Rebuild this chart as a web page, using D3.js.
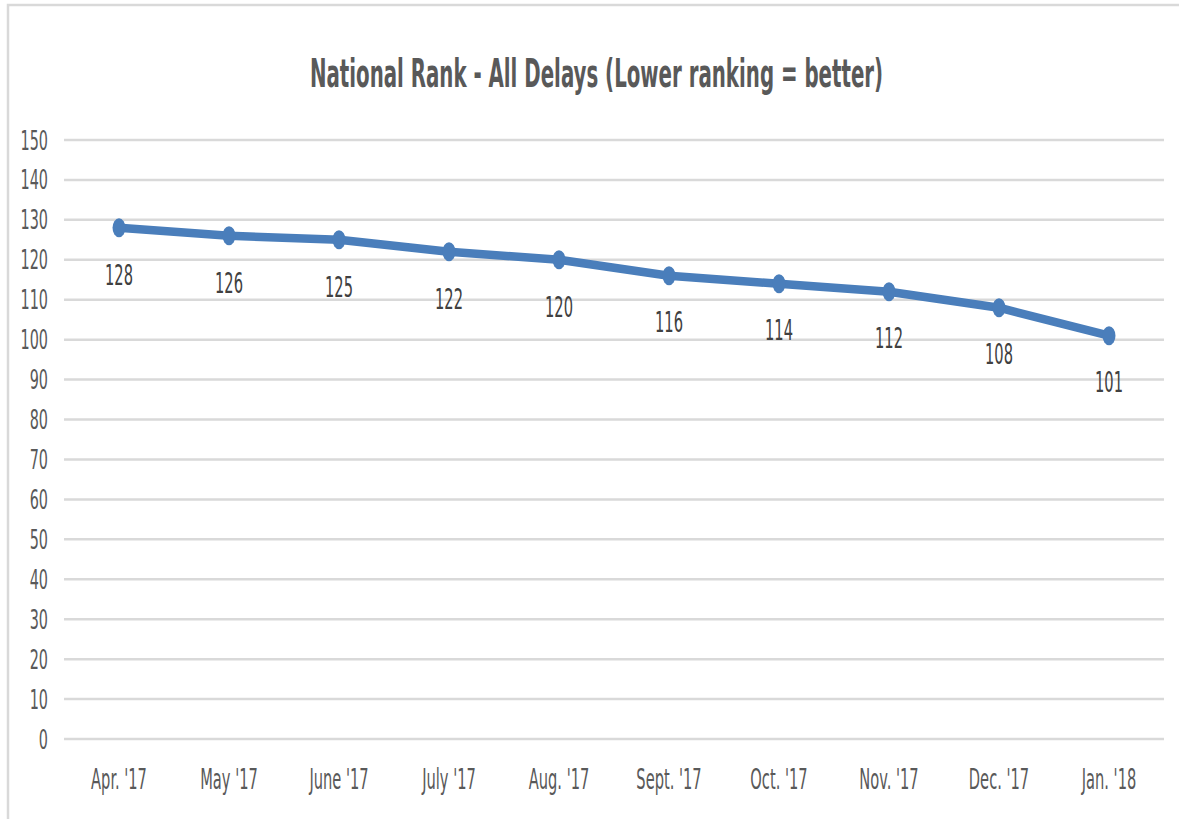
<!DOCTYPE html>
<html>
<head>
<meta charset="utf-8">
<script src="https://cdn.jsdelivr.net/npm/d3@7"></script>
<style>
  body { margin: 0; background: #fff; }
  text { font-family: "Liberation Sans Narrow", "DejaVu Sans Condensed", "Roboto", sans-serif; }
</style>
</head>
<body>
<div id="chart"></div>
<script>
const months = ["Apr. '17", "May '17", "June '17", "July '17", "Aug. '17", "Sept. '17", "Oct. '17", "Nov. '17", "Dec. '17", "Jan. '18"];
const ranks = [128, 126, 125, 122, 120, 116, 114, 112, 108, 101];
const yTicks = [0, 10, 20, 30, 40, 50, 60, 70, 80, 90, 100, 110, 120, 130, 140, 150];
const title = 'National Rank - All Delays (Lower ranking = better)';

const width = 1179, height = 819;
const margin = { top: 140, right: 15, bottom: 80, left: 64 };
const stretch = 1.7; // text in the picture is stretched vertically

const svg = d3.select('#chart')
  .append('svg')
    .attr('width', width)
    .attr('height', height);

// chart frame
svg.append('rect')
  .attr('x', 8)
  .attr('y', 5)
  .attr('width', width + 20)
  .attr('height', height + 20)
  .attr('fill', 'none')
  .attr('stroke', '#d9d9d9')
  .attr('stroke-width', 2.5);

const x = d3.scaleBand()
  .domain(months)
  .range([margin.left, margin.left + 1100]);

const y = d3.scaleLinear()
  .domain([0, 150])
  .range([height - margin.bottom, margin.top]);

const stretchedText = (sel, tx, ty) => sel
  .attr('transform', d => `translate(${tx(d)},${ty(d)}) scale(1,${stretch})`)
  .attr('dy', '0.35em');

// gridlines
svg.append('g')
  .selectAll('line')
  .data(yTicks)
  .enter().append('line')
    .attr('x1', margin.left)
    .attr('x2', margin.left + 1100)
    .attr('y1', d => y(d))
    .attr('y2', d => y(d))
    .attr('stroke', '#d9d9d9')
    .attr('stroke-width', 2.5);

// y labels
svg.append('g')
  .selectAll('text')
  .data(yTicks)
  .enter().append('text')
    .call(stretchedText, () => 48, d => y(d))
    .attr('text-anchor', 'end')
    .attr('font-size', 16)
    .attr('fill', '#595959')
    .text(d => d);

// x labels
svg.append('g')
  .selectAll('text')
  .data(months)
  .enter().append('text')
    .call(stretchedText, d => x(d) + x.bandwidth() / 2, () => 779)
    .attr('text-anchor', 'middle')
    .attr('font-size', 16.3)
    .attr('fill', '#595959')
    .text(d => d);

// title
svg.append('text')
  .attr('transform', `translate(${width / 2 + 7},73) scale(1,1.8)`)
  .attr('dy', '0.35em')
  .attr('text-anchor', 'middle')
  .attr('font-size', 22)
  .attr('font-weight', 'bold')
  .attr('fill', '#595959')
  .text(title);

const points = months.map((m, i) => ({ month: m, rank: ranks[i] }));
const cx = d => x(d.month) + x.bandwidth() / 2;

const line = d3.line()
  .x(cx)
  .y(d => y(d.rank));

svg.append('path')
  .datum(points)
  .attr('d', line)
  .attr('fill', 'none')
  .attr('stroke', '#4a7ebb')
  .attr('stroke-width', 8.5)
  .attr('stroke-linejoin', 'round');

svg.append('g')
  .selectAll('ellipse')
  .data(points)
  .enter().append('ellipse')
    .attr('cx', cx)
    .attr('cy', d => y(d.rank))
    .attr('rx', 6.5)
    .attr('ry', 9.5)
    .attr('fill', '#4a7ebb');

// value labels
svg.append('g')
  .selectAll('text')
  .data(points)
  .enter().append('text')
    .call(stretchedText, cx, d => y(d.rank) + 47)
    .attr('text-anchor', 'middle')
    .attr('font-size', 16.3)
    .attr('fill', '#404040')
    .text(d => d.rank);
</script>
</body>
</html>
